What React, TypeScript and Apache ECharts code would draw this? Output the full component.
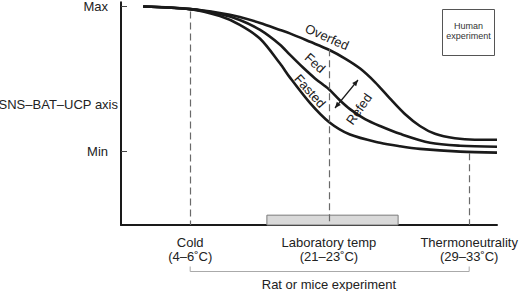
import { useEffect, useRef } from "react";
import * as echarts from "echarts";

// Relative position along the ambient-temperature gradient (0–100) and
// SNS–BAT–UCP activity (Min = 0, Max = 100).
const conditions = ["Cold", "Laboratory temp", "Thermoneutrality"];
const conditionRanges = ["(4–6˚C)", "(21–23˚C)", "(29–33˚C)"];
const conditionX = [18.4, 55.3, 92.6];
const guideTop = [96.5, 70.5, -1.5];

const labTempBand = [38.8, 73.7];
const labTempBandHeight = [-51, -44.2];

const yTicks = [0, 100];
const yTickNames: Record<number, string> = { 0: "Min", 100: "Max" };

const overfed: [number, number][] = [
  [5.9, 100], [18.4, 98.2], [26.3, 95.5], [31.6, 92.7], [37.0, 88.6],
  [42.3, 83.8], [44.9, 81.4], [50.3, 75.6], [55.3, 70.1], [59.6, 64.0],
  [63.6, 57.1], [67.6, 47.6], [71.5, 36.5], [75.5, 25.7], [79.5, 17.4],
  [83.5, 12.0], [88.8, 8.9], [94.1, 7.9], [100, 7.9],
];
const fed: [number, number][] = [
  [5.9, 100], [18.4, 98.2], [26.3, 94.8], [31.6, 90.7], [37.0, 83.8],
  [42.3, 73.6], [44.9, 66.7], [48.4, 57.8], [51.6, 50.3], [55.3, 42.8],
  [58.2, 35.2], [60.9, 29.1], [64.9, 22.2], [68.9, 17.4], [74.2, 12.0],
  [82.2, 5.8], [90.2, 3.8], [100, 3.1],
];
const fasted: [number, number][] = [
  [5.9, 100], [18.4, 98.2], [26.3, 93.4], [31.6, 87.3], [37.0, 77.7],
  [42.3, 60.6], [44.9, 51.0], [50.3, 33.2], [55.3, 20.2], [60.9, 11.5],
  [68.9, 5.8], [74.2, 3.4], [79.5, 1.6], [90.2, -0.3], [100, -1.0],
];

const FONT = '"Liberation Sans", Arial, sans-serif';
const INK = "#1a1a1a";

function curve(name: string, data: [number, number][], extra: object = {}) {
  return {
    type: "line",
    name,
    data,
    smooth: 0.3,
    symbol: "none",
    lineStyle: { color: INK, width: 2.6 },
    z: 3,
    silent: true,
    ...extra,
  };
}

function label(text: string, x: number, y: number, deg: number) {
  return {
    type: "text",
    x,
    y,
    rotation: (deg * Math.PI) / 180,
    style: {
      text,
      x: 0,
      y: 0,
      fill: INK,
      font: `13px ${FONT}`,
      align: "center",
      verticalAlign: "middle",
      textAlign: "center",
      textVerticalAlign: "middle",
    },
    z: 10,
  };
}

function arrowHead(tip: [number, number], from: [number, number]) {
  const dx = tip[0] - from[0];
  const dy = tip[1] - from[1];
  const len = Math.hypot(dx, dy);
  const ux = dx / len;
  const uy = dy / len;
  const L = 6;
  const W = 2.6;
  const bx = tip[0] - ux * L;
  const by = tip[1] - uy * L;
  return {
    type: "polygon",
    shape: {
      points: [
        tip,
        [bx - uy * W, by + ux * W],
        [bx + uy * W, by - ux * W],
      ],
    },
    style: { fill: INK },
    z: 10,
  };
}

export default function App() {
  const ref = useRef<HTMLDivElement>(null);

  useEffect(() => {
    if (!ref.current) return;
    const chart = echarts.init(ref.current, undefined, { renderer: "svg" });

    chart.setOption({
      animation: false,
      backgroundColor: "#fff",
      grid: { left: 121, right: 25, top: 0, bottom: 66 },
      xAxis: {
        type: "value",
        min: 0,
        max: 100,
        axisLine: { show: true, onZero: false, lineStyle: { color: INK, width: 2 } },
        axisTick: { show: false },
        splitLine: { show: false },
        axisLabel: {
          customValues: conditionX,
          formatter: (v: number) => {
            const i = conditionX.indexOf(v);
            return i < 0 ? "" : `${conditions[i]}\n${conditionRanges[i]}`;
          },
          color: "#222",
          fontFamily: FONT,
          fontSize: 13,
          lineHeight: 14,
          margin: 10,
        },
      },
      yAxis: {
        type: "value",
        min: -51,
        max: 103,
        axisLine: { show: true, onZero: false, lineStyle: { color: INK, width: 2 } },
        axisTick: {
          show: true,
          customValues: yTicks,
          inside: true,
          length: 6,
          lineStyle: { color: "#444", width: 1 },
        },
        splitLine: { show: false },
        axisLabel: {
          customValues: yTicks,
          formatter: (v: number) => yTickNames[v] ?? "",
          color: "#222",
          fontFamily: FONT,
          fontSize: 13,
          margin: 13,
        },
      },
      series: [
        curve("Overfed", overfed),
        curve("Fed", fed),
        curve("Fasted", fasted, {
          markArea: {
            silent: true,
            itemStyle: { color: "#d9d9d9", borderColor: "#7a7a7a", borderWidth: 1 },
            label: { show: false },
            data: [
              [
                { coord: [labTempBand[0], labTempBandHeight[0]] },
                { coord: [labTempBand[1], labTempBandHeight[1]] },
              ],
            ],
          },
          markLine: {
            silent: true,
            symbol: "none",
            label: { show: false },
            lineStyle: { color: "#6a6a6a", width: 1.2, type: [7, 4] },
            data: conditionX.map((x, i) => [
              { coord: [x, guideTop[i]] },
              { coord: [x, -51] },
            ]),
          },
        }),
      ],
    });

    const px = (x: number) => chart.convertToPixel({ xAxisIndex: 0 }, x) as number;
    const xCold = px(conditionX[0]);
    const xLab = px(conditionX[1]);
    const xThermo = px(conditionX[2]);

    const arrowA: [number, number] = [335, 108];
    const arrowB: [number, number] = [358, 80];

    chart.setOption({
      graphic: [
        {
          type: "text",
          x: 118,
          y: 104,
          style: {
            text: "SNS–BAT–UCP axis",
            fill: "#222",
            font: `13px ${FONT}`,
            align: "right",
            verticalAlign: "middle",
            textAlign: "right",
            textVerticalAlign: "middle",
          },
        },
        {
          type: "rect",
          shape: { x: 442.5, y: 9.5, width: 52, height: 46 },
          style: { fill: "#fff", stroke: "#555", lineWidth: 1 },
        },
        {
          type: "text",
          x: 468.5,
          y: 31,
          style: {
            text: "Human\nexperiment",
            fill: "#333",
            font: `9px ${FONT}`,
            lineHeight: 10,
            align: "center",
            verticalAlign: "middle",
            textAlign: "center",
            textVerticalAlign: "middle",
          },
        },
        label("Overfed", 327, 37, -24),
        label("Fed", 315, 63, -42),
        label("Fasted", 310, 91, -48),
        label("Refed", 359, 109, 55),
        {
          type: "line",
          shape: { x1: arrowA[0], y1: arrowA[1], x2: arrowB[0], y2: arrowB[1] },
          style: { stroke: INK, lineWidth: 1.2 },
          z: 10,
        },
        arrowHead(arrowA, arrowB),
        arrowHead(arrowB, arrowA),
        {
          type: "polyline",
          shape: {
            points: [
              [xCold, 266.5],
              [xCold, 271.5],
              [xThermo, 271.5],
              [xThermo, 266.5],
            ],
          },
          style: { stroke: "#aaa", lineWidth: 1, fill: null },
        },
        {
          type: "text",
          x: xLab,
          y: 278,
          style: {
            text: "Rat or mice experiment",
            fill: "#222",
            font: `13px ${FONT}`,
            align: "center",
            verticalAlign: "top",
            textAlign: "center",
            textVerticalAlign: "top",
          },
        },
      ],
    });

    return () => chart.dispose();
  }, []);

  return (
    <div
      ref={ref}
      style={{ position: "fixed", left: 0, top: 0, width: 522, height: 291 }}
    />
  );
}
